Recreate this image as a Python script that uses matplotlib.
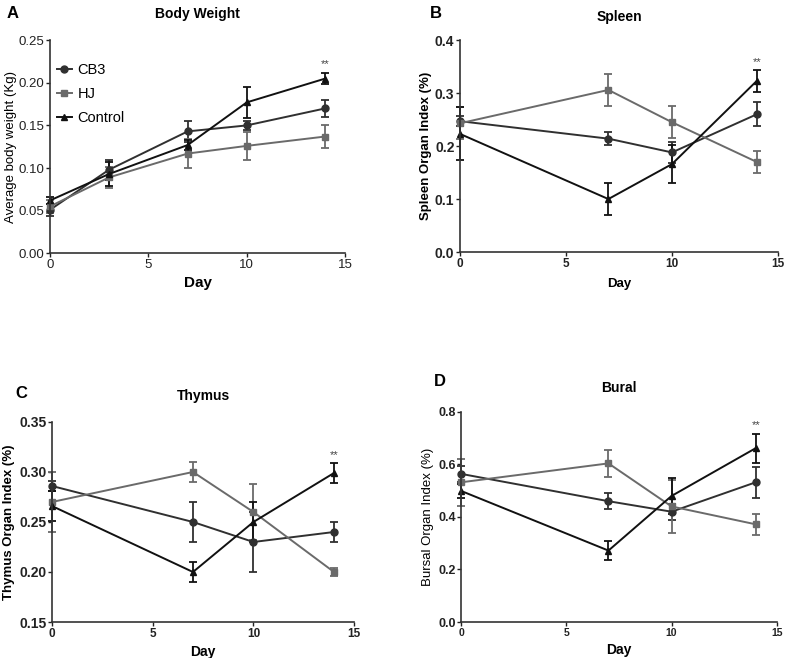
import matplotlib
matplotlib.use("Agg")
import matplotlib.pyplot as plt
from matplotlib.lines import Line2D

plt.rcParams['font.family'] = ['Liberation Sans', 'DejaVu Sans']

# ---- data ----
days_bw = [0, 3, 7, 10, 14]
days_org = [0, 7, 10, 14]
groups = ["CB3", "HJ", "Control"]

bw_cb3 = [0.051, 0.098, 0.143, 0.150, 0.170]
bw_cb3_err = [0.007, 0.012, 0.012, 0.005, 0.010]
bw_hj = [0.055, 0.089, 0.117, 0.126, 0.137]
bw_hj_err = [0.008, 0.012, 0.017, 0.016, 0.013]
bw_ctl = [0.062, 0.093, 0.127, 0.177, 0.205]
bw_ctl_err = [0.004, 0.014, 0.006, 0.018, 0.007]

sp_cb3 = [0.247, 0.214, 0.188, 0.260]
sp_cb3_err = [0.010, 0.012, 0.020, 0.023]
sp_hj = [0.243, 0.306, 0.245, 0.170]
sp_hj_err = [0.030, 0.030, 0.030, 0.020]
sp_ctl = [0.223, 0.100, 0.166, 0.323]
sp_ctl_err = [0.050, 0.030, 0.036, 0.021]

th_cb3 = [0.286, 0.250, 0.230, 0.240]
th_cb3_err = [0.005, 0.020, 0.030, 0.010]
th_hj = [0.270, 0.300, 0.260, 0.200]
th_hj_err = [0.030, 0.010, 0.028, 0.004]
th_ctl = [0.266, 0.200, 0.250, 0.299]
th_ctl_err = [0.015, 0.010, 0.020, 0.010]

bu_cb3 = [0.564, 0.460, 0.420, 0.532]
bu_cb3_err = [0.030, 0.030, 0.030, 0.060]
bu_hj = [0.532, 0.604, 0.440, 0.372]
bu_hj_err = [0.090, 0.050, 0.100, 0.040]
bu_ctl = [0.499, 0.272, 0.480, 0.662]
bu_ctl_err = [0.025, 0.037, 0.070, 0.055]

colors = {"CB3": "#303030", "HJ": "#6a6a6a", "Control": "#111111"}
markers = {"CB3": "o", "HJ": "s", "Control": "^"}
msizes = {"CB3": 5, "HJ": 5, "Control": 4.5}

fig = plt.figure(figsize=(7.87, 6.58), dpi=100)

def make_ax(rect, ylim, yticks, yfmt, tick_bold, tick_size):
    ax = fig.add_axes(rect)
    ax.set_xlim(0, 15)
    ax.set_ylim(*ylim)
    ax.set_xticks([0, 5, 10, 15])
    ax.set_yticks(yticks)
    ax.set_yticklabels([yfmt.format(v) for v in yticks],
                       fontweight='bold' if tick_bold else 'normal', fontsize=tick_size)
    ax.set_xticklabels(["0", "5", "10", "15"], fontweight='bold', fontsize=tick_size - 1.5)
    for s in ["top", "right"]:
        ax.spines[s].set_visible(False)
    for s in ["left", "bottom"]:
        ax.spines[s].set_linewidth(1.2)
        ax.spines[s].set_color("#333333")
    ax.tick_params(direction='out', length=3, width=1.0, pad=1, colors="#222222")
    return ax

def draw(ax, x, series):
    for g, (y, e) in zip(groups, series):
        ax.errorbar(x, y, yerr=e, color=colors[g], marker=markers[g],
                    markersize=msizes[g], lw=1.4, elinewidth=1.3,
                    capsize=3, capthick=1.3, label=g, clip_on=False)

# Panel A
axA = make_ax([0.0635, 0.615, 0.375, 0.324], (0, 0.25),
              [0.00, 0.05, 0.10, 0.15, 0.20, 0.25], "{:.2f}", False, 9.5)
axA.set_xticklabels(["0", "5", "10", "15"], fontweight='normal', fontsize=9.5)
draw(axA, days_bw, [(bw_cb3, bw_cb3_err), (bw_hj, bw_hj_err), (bw_ctl, bw_ctl_err)])
axA.set_ylabel("Average body weight (Kg)", fontsize=9.5, labelpad=1)
axA.set_xlabel("Day", fontsize=11, fontweight='bold', labelpad=4)
axA.set_title("Body Weight", fontsize=10, fontweight='bold', pad=16)
axA.text(days_bw[-1], bw_ctl[-1] + bw_ctl_err[-1] + 0.004, "**", ha='center',
         va='bottom', fontsize=8, color="#444444")
legend_handles = [Line2D([0], [0], color=colors[g], marker=markers[g],
                         markersize=msizes[g], lw=1.4) for g in groups]
axA.legend(handles=legend_handles, labels=groups, loc='upper left', frameon=False,
           fontsize=10.5, handlelength=1.0, handletextpad=0.4,
           bbox_to_anchor=(-0.02, 0.955), labelspacing=0.7)

# Panel B
axB = make_ax([0.5845, 0.617, 0.404, 0.322], (0, 0.4),
              [0.0, 0.1, 0.2, 0.3, 0.4], "{:.1f}", True, 10)
draw(axB, days_org, [(sp_cb3, sp_cb3_err), (sp_hj, sp_hj_err), (sp_ctl, sp_ctl_err)])
axB.set_ylabel("Spleen Organ Index (%)", fontsize=9.5, fontweight='bold', labelpad=2)
axB.set_xlabel("Day", fontsize=9.5, fontweight='bold', labelpad=6)
axB.set_title("Spleen", fontsize=10, fontweight='bold', pad=14)
axB.text(days_org[-1], sp_ctl[-1] + sp_ctl_err[-1] + 0.006, "**", ha='center',
         va='bottom', fontsize=8, color="#444444")

# Panel C
axC = make_ax([0.066, 0.0547, 0.384, 0.304], (0.15, 0.35),
              [0.15, 0.20, 0.25, 0.30, 0.35], "{:.2f}", True, 10)
draw(axC, days_org, [(th_cb3, th_cb3_err), (th_hj, th_hj_err), (th_ctl, th_ctl_err)])
axC.set_ylabel("Thymus Organ Index (%)", fontsize=9.5, fontweight='bold', labelpad=3)
axC.set_xlabel("Day", fontsize=10, fontweight='bold', labelpad=4)
axC.set_title("Thymus", fontsize=10, fontweight='bold', pad=16)
axC.text(days_org[-1], th_ctl[-1] + th_ctl_err[-1] + 0.003, "**", ha='center',
         va='bottom', fontsize=8, color="#444444")

# Panel D
axD = make_ax([0.586, 0.0547, 0.401, 0.3193], (0, 0.8),
              [0.0, 0.2, 0.4, 0.6, 0.8], "{:.1f}", True, 9)
draw(axD, days_org, [(bu_cb3, bu_cb3_err), (bu_hj, bu_hj_err), (bu_ctl, bu_ctl_err)])
axD.set_ylabel("Bursal Organ Index (%)", fontsize=9.5, labelpad=3)
axD.set_xlabel("Day", fontsize=10, fontweight='bold', labelpad=4)
axD.set_title("Bural", fontsize=10, fontweight='bold', pad=14)
axD.text(days_org[-1], bu_ctl[-1] + bu_ctl_err[-1] + 0.012, "**", ha='center',
         va='bottom', fontsize=8, color="#444444")

# panel letters
for lbl, (x, y) in zip("ABCD", [(7, 13), (430, 13), (15, 393), (434, 382)]):
    fig.text(x / 787, 1 - y / 658, lbl, fontsize=12, fontweight='bold', va='center')

fig.savefig("out.png", dpi=100, facecolor='white')
